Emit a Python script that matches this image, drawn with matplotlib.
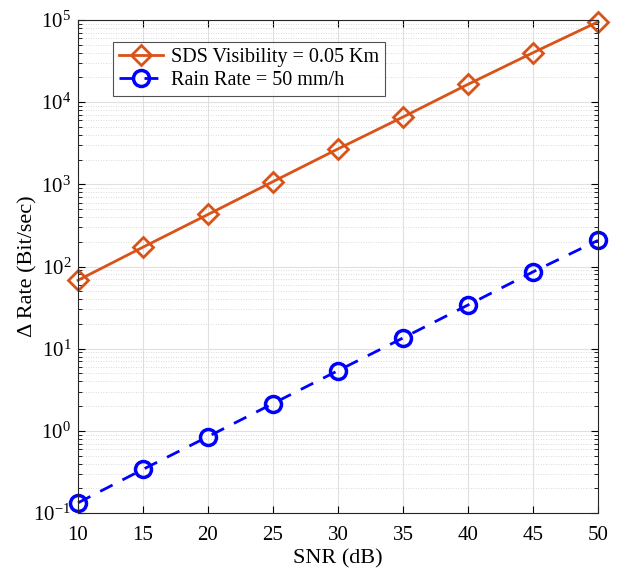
import matplotlib
matplotlib.use("Agg")
import matplotlib.pyplot as plt
from matplotlib.ticker import LogLocator, FuncFormatter, NullFormatter
import numpy as np

plt.rcParams['font.family'] = ['Liberation Serif', 'DejaVu Serif']
plt.rcParams['mathtext.fontset'] = 'custom'
plt.rcParams['mathtext.rm'] = 'Liberation Serif'
plt.rcParams['mathtext.it'] = 'Liberation Serif:italic'

# data
snr = [10, 15, 20, 25, 30, 35, 40, 45, 50]
sds_rate = [68, 172, 430, 1080, 2700, 6600, 16500, 40000, 95000]
rain_rate = [0.133, 0.34, 0.85, 2.15, 5.4, 13.5, 34, 86, 208]

fig = plt.figure(figsize=(6.22, 5.68), dpi=100)
ax = fig.add_axes([78 / 622, 1 - 513 / 568, 520 / 622, 493 / 568])

ax.semilogy(snr, sds_rate, '-', color='#D95319', lw=2, marker='D', ms=10,
            mfc='none', mew=2, label='SDS Visibility = 0.05 Km', clip_on=False)
ax.semilogy(snr, rain_rate, '--', color='#0000FF', lw=2, marker='o', ms=11.5,
            mfc='none', mew=2.5, dashes=(5, 4), label='Rain Rate = 50 mm/h',
            clip_on=False)

ax.set_xlim(10, 50)
ax.set_ylim(1e-1, 1e5)
ax.set_xticks(snr)
ax.yaxis.set_major_locator(LogLocator(base=10, numticks=10))
ax.yaxis.set_minor_locator(LogLocator(base=10, subs=range(2, 10), numticks=20))
ax.yaxis.set_major_formatter(
    FuncFormatter(lambda v, p: '$10^{%d}$' % int(round(np.log10(v)))))
ax.yaxis.set_minor_formatter(NullFormatter())

ax.grid(True, which='major', color='#e0e0e0', lw=0.8, ls='-')
ax.grid(True, which='minor', axis='y', color='#cfcfcf', lw=0.6, ls=(0, (1, 2)))
ax.set_axisbelow(True)

ax.tick_params(which='both', direction='in', top=True, right=True, labelsize=15)
ax.tick_params(which='major', length=5)
ax.tick_params(which='minor', length=3)
ax.tick_params(axis='x', pad=9)
ax.tick_params(axis='y', pad=5)
for s in ax.spines.values():
    s.set_color('#262626')
    s.set_linewidth(0.8)

ax.set_xlabel('SNR (dB)', fontsize=16)
ax.set_ylabel('Δ Rate (Bit/sec)', fontsize=16)
ax.xaxis.set_label_coords(0.5, -0.073)
ax.yaxis.set_label_coords(-0.078, 0.5)

leg = ax.legend(loc='upper left', bbox_to_anchor=(0.067, 0.955), fontsize=14.5,
                frameon=True, fancybox=False, edgecolor='#262626',
                handlelength=2.2, handletextpad=0.4, borderpad=0.3,
                labelspacing=0.2, borderaxespad=0)
leg.get_frame().set_linewidth(0.8)

fig.savefig('out.png', dpi=100)
